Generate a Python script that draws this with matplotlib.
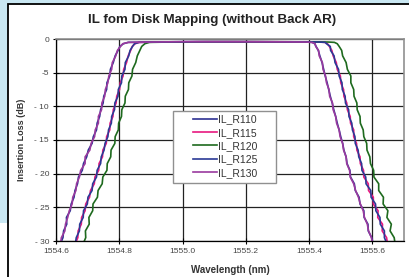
import matplotlib
matplotlib.use("Agg")
import matplotlib.pyplot as plt
from matplotlib.patches import Rectangle

plt.rcParams['font.family'] = ['Liberation Sans', 'DejaVu Sans']

# insertion loss levels (dB), shared by all traces: rising edge, flat top, falling edge
il_levels = [-30.5, -29.5, -28.5, -27.5, -26.5, -25.5, -24.5, -23.5, -22.5, -21.5,
             -20.5, -19.5, -18.5, -17.5, -16.5, -15.5, -14.5, -13.5, -12.5, -11.5,
             -10.5, -9.5, -8.5, -7.5, -6.5, -5.5, -4.5, -3.5, -2.5, -1.7, -1.1, -0.7, -0.5,
             -0.45, -0.4, -0.4, -0.42, -0.45,
             -0.5, -0.7, -1.1, -1.7, -2.5, -3.5, -4.5, -5.5, -6.5, -7.5, -8.5, -9.5,
             -10.5, -11.5, -12.5, -13.5, -14.5, -15.5, -16.5, -17.5, -18.5, -19.5,
             -20.5, -21.5, -22.5, -23.5, -24.5, -25.5, -26.5, -27.5, -28.5, -29.5, -30.5]

wl_R110 = [1554.613, 1554.622, 1554.624, 1554.634, 1554.633, 1554.645, 1554.648, 1554.657, 1554.660, 1554.668,
           1554.671, 1554.683, 1554.687, 1554.697, 1554.702, 1554.714, 1554.718, 1554.728, 1554.730, 1554.738,
           1554.741, 1554.749, 1554.751, 1554.760, 1554.761, 1554.770, 1554.772, 1554.781, 1554.787, 1554.796, 1554.802, 1554.813, 1554.828,
           1554.900, 1555.000, 1555.150, 1555.300, 1555.390,
           1555.410, 1555.418, 1555.422, 1555.429, 1555.434, 1555.441, 1555.446, 1555.451, 1555.457, 1555.462,
           1555.467, 1555.473, 1555.478, 1555.484, 1555.489, 1555.495, 1555.500, 1555.506, 1555.510, 1555.517,
           1555.520, 1555.529, 1555.531, 1555.543, 1555.546, 1555.558, 1555.561, 1555.573, 1555.574, 1555.586,
           1555.587, 1555.598, 1555.602]

wl_R115 = [1554.660, 1554.669, 1554.670, 1554.680, 1554.681, 1554.692, 1554.694, 1554.706, 1554.709, 1554.721,
           1554.723, 1554.735, 1554.736, 1554.747, 1554.748, 1554.759, 1554.760, 1554.770, 1554.771, 1554.780,
           1554.781, 1554.790, 1554.792, 1554.801, 1554.803, 1554.812, 1554.814, 1554.823, 1554.828, 1554.836, 1554.841, 1554.850, 1554.862,
           1554.930, 1555.050, 1555.200, 1555.350, 1555.430,
           1555.450, 1555.458, 1555.464, 1555.472, 1555.476, 1555.486, 1555.489, 1555.499, 1555.500, 1555.509,
           1555.510, 1555.519, 1555.521, 1555.530, 1555.531, 1555.541, 1555.541, 1555.550, 1555.551, 1555.561,
           1555.562, 1555.572, 1555.573, 1555.587, 1555.588, 1555.603, 1555.603, 1555.618, 1555.617, 1555.632,
           1555.631, 1555.645, 1555.648]

wl_R120 = [1554.685, 1554.694, 1554.693, 1554.705, 1554.704, 1554.716, 1554.717, 1554.731, 1554.733, 1554.746,
           1554.748, 1554.761, 1554.762, 1554.773, 1554.774, 1554.786, 1554.787, 1554.797, 1554.798, 1554.807,
           1554.808, 1554.818, 1554.819, 1554.829, 1554.830, 1554.840, 1554.842, 1554.852, 1554.857, 1554.865, 1554.871, 1554.881, 1554.895,
           1554.960, 1555.080, 1555.220, 1555.360, 1555.460,
           1555.480, 1555.489, 1555.495, 1555.503, 1555.506, 1555.517, 1555.521, 1555.532, 1555.532, 1555.541,
           1555.542, 1555.551, 1555.552, 1555.561, 1555.562, 1555.571, 1555.573, 1555.582, 1555.583, 1555.592,
           1555.594, 1555.604, 1555.605, 1555.620, 1555.620, 1555.635, 1555.634, 1555.649, 1555.646, 1555.660,
           1555.656, 1555.669, 1555.672]

wl_R125 = [1554.661, 1554.664, 1554.674, 1554.675, 1554.686, 1554.687, 1554.699, 1554.701, 1554.714, 1554.716,
           1554.728, 1554.730, 1554.741, 1554.743, 1554.752, 1554.755, 1554.764, 1554.766, 1554.775, 1554.776,
           1554.785, 1554.786, 1554.796, 1554.797, 1554.807, 1554.808, 1554.818, 1554.819, 1554.830, 1554.834, 1554.842, 1554.848, 1554.863,
           1554.930, 1555.050, 1555.200, 1555.350, 1555.430,
           1555.451, 1555.455, 1555.467, 1555.468, 1555.479, 1555.482, 1555.493, 1555.495, 1555.504, 1555.505,
           1555.514, 1555.515, 1555.525, 1555.526, 1555.535, 1555.537, 1555.545, 1555.546, 1555.555, 1555.557,
           1555.566, 1555.567, 1555.579, 1555.580, 1555.595, 1555.596, 1555.610, 1555.611, 1555.624, 1555.625,
           1555.638, 1555.638, 1555.647]

wl_R130 = [1554.614, 1554.617, 1554.628, 1554.630, 1554.637, 1554.642, 1554.651, 1554.653, 1554.663, 1554.665,
           1554.674, 1554.678, 1554.692, 1554.692, 1554.707, 1554.711, 1554.722, 1554.724, 1554.734, 1554.734,
           1554.744, 1554.745, 1554.754, 1554.756, 1554.764, 1554.767, 1554.776, 1554.778, 1554.789, 1554.794, 1554.804, 1554.811, 1554.829,
           1554.900, 1555.000, 1555.150, 1555.300, 1555.390,
           1555.409, 1555.419, 1555.421, 1555.430, 1555.432, 1555.442, 1555.444, 1555.452, 1555.455, 1555.463,
           1555.465, 1555.474, 1555.476, 1555.484, 1555.487, 1555.495, 1555.498, 1555.506, 1555.509, 1555.517,
           1555.519, 1555.528, 1555.530, 1555.541, 1555.547, 1555.556, 1555.562, 1555.571, 1555.575, 1555.584,
           1555.588, 1555.597, 1555.601]

series = [("IL_R110", wl_R110, "#2E3192"),
          ("IL_R115", wl_R115, "#E8197F"),
          ("IL_R120", wl_R120, "#1E6A1E"),
          ("IL_R125", wl_R125, "#2B3A96"),
          ("IL_R130", wl_R130, "#9A3A9E")]

x_ticks = [1554.6, 1554.8, 1555.0, 1555.2, 1555.4, 1555.6]
y_ticks = [0, -5, -10, -15, -20, -25, -30]
y_tick_labels = ["0", "-5", "- 10", "- 15", "- 20", "- 25", "- 30"]

W, H = 409, 277
fig = plt.figure(figsize=(W / 100, H / 100), dpi=100)
fig.patch.set_facecolor("#C9E7F2")

# white panel with black frame on left/top
fig.patches.append(Rectangle((0, 0), 8 / W, (H - 223) / H, transform=fig.transFigure,
                             facecolor="white", edgecolor="none", zorder=-10))
fig.patches.append(Rectangle((8 / W, -0.1), 1.2, 1.1 - 4 / H, transform=fig.transFigure,
                             facecolor="white", edgecolor="black", linewidth=1.3, zorder=-10))

ax = fig.add_axes([56 / W, 1 - 241 / H, 348 / W, 202 / H])
ax.set_zorder(1)
for name, wl, color in series:
    ax.plot(wl, il_levels, color=color, linewidth=1.2, label=name)

ax.set_xlim(1554.6, 1555.7)
ax.set_ylim(-30, 0)
ax.set_xticks(x_ticks)
ax.set_xticklabels(["%.1f" % t for t in x_ticks])
ax.set_yticks(y_ticks)
ax.set_yticklabels(y_tick_labels)
ax.grid(True, color="#222222", linewidth=0.9)
ax.tick_params(direction="inout", length=4, width=0.8, labelsize=6, labelcolor="#444444", pad=3)
for s in ["top", "right"]:
    ax.spines[s].set_color("#909090")
    ax.spines[s].set_linewidth(1.2)
for s in ["left", "bottom"]:
    ax.spines[s].set_color("black")
    ax.spines[s].set_linewidth(0.9)

ax.set_xlabel("Wavelength (nm)", fontsize=7, fontweight="bold", color="#333333", labelpad=7)
fig.text(22 / W, 1 - 140 / H, "Insertion Loss (dB)", rotation=90, fontsize=6.5,
         fontweight="bold", color="#333333", ha="center", va="center")
fig.text(212 / W, 1 - 20 / H, "IL fom Disk Mapping (without Back AR)", fontsize=9.6,
         fontweight="bold", color="#222222", ha="center", va="center")

# legend box
ax.add_patch(Rectangle(((173 - 56) / 348, (241 - 183) / 202), 103 / 348, 72 / 202,
                       transform=ax.transAxes, facecolor="white", edgecolor="#909090",
                       linewidth=1.0, zorder=4))
leg = ax.legend(loc="center", bbox_to_anchor=((225 - 56) / 348, (241 - 146) / 202),
                frameon=False, fontsize=7.5, handlelength=2.3, handletextpad=0.1,
                labelspacing=0.32, borderpad=0.2)
leg.set_zorder(5)
for t in leg.get_texts():
    t.set_color("#333333")

fig.savefig("out.png", dpi=100, facecolor=fig.get_facecolor())
